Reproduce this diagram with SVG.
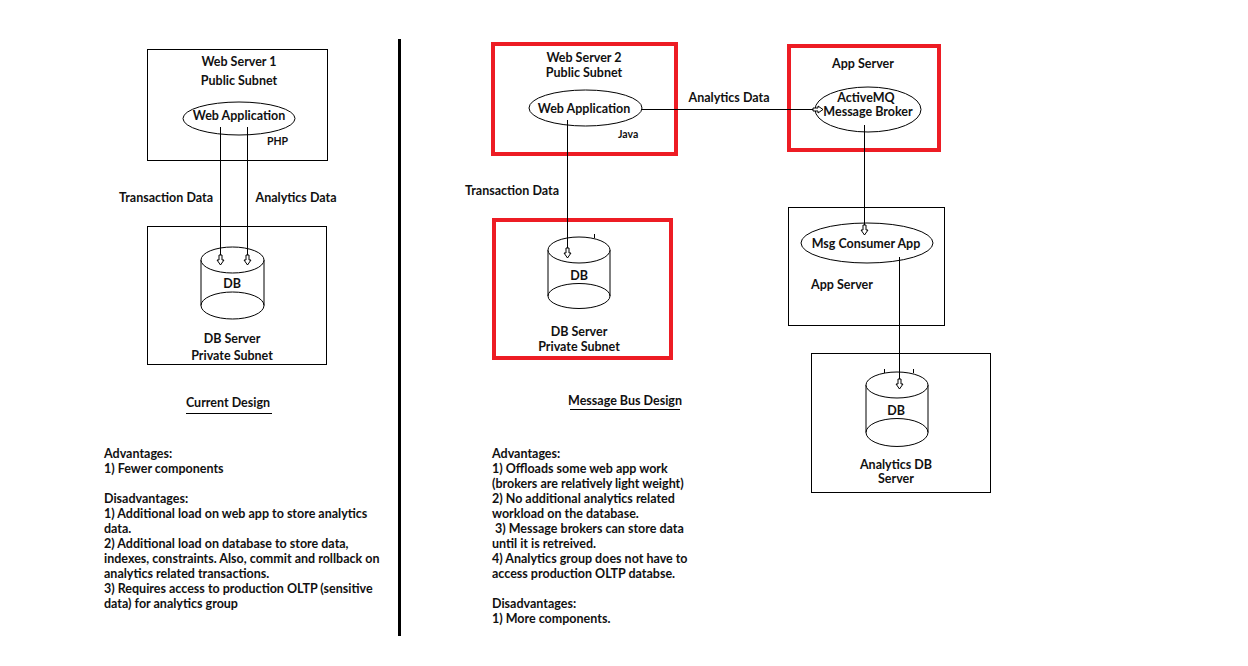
<svg xmlns="http://www.w3.org/2000/svg" width="1248" height="666" viewBox="0 0 1248 666">
  <style>
    text { font-family: Lato, "Liberation Sans", sans-serif; font-weight: bold; font-size: 12.5px; fill: #111; }
    .c { text-anchor: middle; }
    .sm { font-size: 10.5px; }
    .box { fill: none; stroke: #000; stroke-width: 1; }
    .red { fill: none; stroke: #ED1C24; stroke-width: 4; }
    .shape { fill: #fff; stroke: #000; stroke-width: 1; }
    .line { fill: none; stroke: #000; stroke-width: 1; }
    .wire { fill: none; stroke: #000; stroke-width: 1; marker-end: url(#hollow); }
  </style>
  <defs>
    <marker id="hollow" markerUnits="userSpaceOnUse" viewBox="-12 -5 14 10" refX="0" refY="0" markerWidth="14" markerHeight="10" orient="auto">
      <polygon points="-10,-1.5 -5,-1.5 -5,-3.5 0,0 -5,3.5 -5,1.5 -10,1.5" fill="#fff" stroke="#000" stroke-width="1"/>
    </marker>
  </defs>

  <rect width="1248" height="666" fill="#fff"/>

  <!-- divider between the two designs -->
  <line x1="399.5" y1="39" x2="399.5" y2="636" stroke="#000" stroke-width="3"/>

  <!-- ===== Current design ===== -->
  <g id="web-server-1">
    <rect class="box" x="147.5" y="49.5" width="180" height="111"/>
    <text class="c" x="239" y="65.5">Web Server 1</text>
    <text class="c" x="239" y="84.5">Public Subnet</text>
    <ellipse class="shape" cx="239" cy="118.5" rx="56" ry="16.5"/>
    <text class="c" x="239" y="119.5">Web Application</text>
    <text class="sm" x="267" y="145">PHP</text>
  </g>

  <g id="db-server-1">
    <rect class="box" x="147.5" y="226.5" width="179" height="138"/>
    <path class="shape" d="M201,260 V305.5 A31.5,13.5 0 0 0 264,305.5 V260"/>
    <ellipse class="shape" cx="232.5" cy="260" rx="31.5" ry="13"/>
    <path class="line" d="M201,305.5 A31.5,13.5 0 0 1 264,305.5"/>
    <text class="c" x="232" y="287.5">DB</text>
    <text class="c" x="232" y="342.5">DB Server</text>
    <text class="c" x="232" y="359.5">Private Subnet</text>
  </g>

  <!-- ===== Message bus design ===== -->
  <g id="web-server-2">
    <rect class="red" x="493" y="44" width="183" height="110"/>
    <text class="c" x="584" y="61.5">Web Server 2</text>
    <text class="c" x="584" y="76.5">Public Subnet</text>
    <ellipse class="shape" cx="585.5" cy="108" rx="56.5" ry="18"/>
    <text class="c" x="584" y="112.5">Web Application</text>
    <text class="sm" x="618" y="138">Java</text>
  </g>

  <g id="db-server-2">
    <rect class="red" x="494" y="220" width="177" height="138"/>
    <path class="shape" d="M548,250 V296 A31,12.5 0 0 0 610,296 V250"/>
    <ellipse class="shape" cx="579" cy="250" rx="31" ry="13"/>
    <path class="line" d="M548,296 A31,12.5 0 0 1 610,296"/>
    <line class="line" x1="594.5" y1="234" x2="594.5" y2="238"/>
    <text class="c" x="579" y="279.5">DB</text>
    <text class="c" x="579" y="335.5">DB Server</text>
    <text class="c" x="579" y="350.5">Private Subnet</text>
  </g>

  <g id="app-server-broker">
    <rect class="red" x="789" y="46" width="150" height="104"/>
    <text class="c" x="863" y="67.5">App Server</text>
    <ellipse class="shape" cx="868" cy="109.5" rx="53" ry="22.5"/>
    <text class="c" x="866" y="101.5">ActiveMQ</text>
    <text class="c" x="868" y="115.5">Message Broker</text>
  </g>

  <g id="app-server-consumer">
    <rect class="box" x="788.5" y="207.5" width="156" height="118"/>
    <ellipse class="shape" cx="867" cy="243" rx="66" ry="20"/>
    <text class="c" x="866" y="247.5">Msg Consumer App</text>
    <text class="c" x="842" y="288.5">App Server</text>
  </g>

  <g id="analytics-db-server">
    <rect class="box" x="811.5" y="353.5" width="179" height="139"/>
    <path class="shape" d="M866,385 V432.5 A31,14 0 0 0 928,432.5 V385"/>
    <ellipse class="shape" cx="897" cy="385" rx="31" ry="13"/>
    <path class="line" d="M866,432.5 A31,14 0 0 1 928,432.5"/>
    <line class="line" x1="884.5" y1="369" x2="884.5" y2="373"/>
    <line class="line" x1="913.5" y1="369" x2="913.5" y2="373"/>
    <text class="c" x="896" y="415">DB</text>
    <text class="c" x="896" y="469">Analytics DB</text>
    <text class="c" x="896" y="483">Server</text>
  </g>

  <!-- connectors -->
  <g id="connectors">
    <line class="wire" x1="220.5" y1="127" x2="220.5" y2="265"/>
    <line class="wire" x1="247.5" y1="127" x2="247.5" y2="265"/>
    <text class="c" x="166" y="201.5">Transaction Data</text>
    <text class="c" x="296" y="201.5">Analytics Data</text>

    <line class="wire" x1="567.5" y1="120" x2="567.5" y2="258"/>
    <text class="c" x="512" y="194.5">Transaction Data</text>

    <line class="wire" x1="642" y1="109.5" x2="823" y2="109.5"/>
    <text class="c" x="729" y="101.5">Analytics Data</text>

    <line class="wire" x1="864.5" y1="125" x2="864.5" y2="235"/>
    <line class="wire" x1="899.5" y1="257" x2="899.5" y2="389"/>
  </g>

  <!-- design titles -->
  <g id="titles">
    <text class="c" x="228" y="406.5">Current Design</text>
    <line class="line" x1="186" y1="413.5" x2="272" y2="413.5"/>
    <text class="c" x="625" y="404.5">Message Bus Design</text>
    <line class="line" x1="570" y1="409.5" x2="680" y2="409.5"/>
  </g>

  <!-- notes -->
  <g id="notes-current">
    <text x="104" y="457.5">Advantages:</text>
    <text x="104" y="472.5">1) Fewer components</text>
    <text x="104" y="502.5">Disadvantages:</text>
    <text x="104" y="517.5">1) Additional load on web app to store analytics</text>
    <text x="104" y="532.5">data.</text>
    <text x="104" y="548">2) Additional load on database to store data,</text>
    <text x="104" y="563">indexes, constraints. Also, commit and rollback on</text>
    <text x="104" y="578">analytics related transactions.</text>
    <text x="104" y="593">3) Requires access to production OLTP (sensitive</text>
    <text x="104" y="608">data) for analytics group</text>
  </g>

  <g id="notes-message-bus">
    <text x="492" y="457.5">Advantages:</text>
    <text x="492" y="472.5">1) Offloads some web app work</text>
    <text x="492" y="487.5">(brokers are relatively light weight)</text>
    <text x="492" y="502.5">2) No additional analytics related</text>
    <text x="492" y="517.5">workload on the database.</text>
    <text x="495" y="532.5">3) Message brokers can store data</text>
    <text x="492" y="547.5">until it is retreived.</text>
    <text x="492" y="563">4) Analytics group does not have to</text>
    <text x="492" y="578">access production OLTP databse.</text>
    <text x="492" y="608">Disadvantages:</text>
    <text x="492" y="623">1) More components.</text>
  </g>
</svg>
